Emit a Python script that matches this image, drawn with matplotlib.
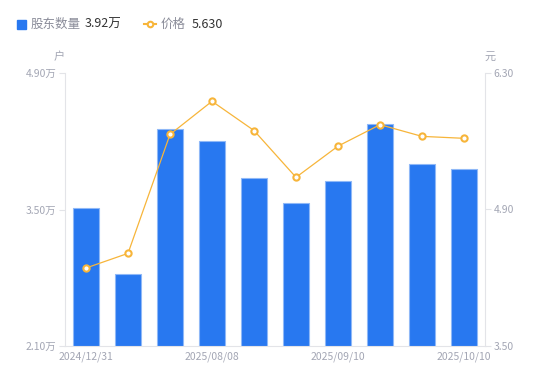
import numpy as np
import matplotlib.pyplot as plt

plt.rcParams['font.family'] = ['Noto Sans CJK SC', 'DejaVu Sans']

# dados
rotulos = ['2024/12/31', '', '', '2025/08/08', '', '', '2025/09/10', '', '', '2025/10/10']
acionistas = [3.52, 2.84, 4.33, 4.20, 3.82, 3.57, 3.79, 4.38, 3.97, 3.92]  # 万户
preco = [4.30, 4.45, 5.67, 6.01, 5.71, 5.23, 5.55, 5.77, 5.65, 5.63]
ticks_esq = [2.10, 3.50, 4.90]
ticks_dir = [3.50, 4.90, 6.30]

azul = '#2878f0'
laranja = '#f7b53a'
cinza = '#a3a6b4'
eixo = '#e3e4e8'

fig = plt.figure(figsize=(5.5, 3.81), dpi=100)
ax = fig.add_axes([65/550, 35/381, 420/550, 273/381])
x = np.arange(len(acionistas))
ax.bar(x, acionistas, width=0.6, color=azul, edgecolor='#8fb8f7', linewidth=0.8, bottom=0)
ax.set_ylim(ticks_esq[0], ticks_esq[-1])
ax.set_xlim(-0.5, len(acionistas) - 0.5)
ax.set_yticks(ticks_esq)
ax.set_yticklabels(['%.2f万' % v for v in ticks_esq])
idx = [i for i in range(len(rotulos)) if rotulos[i] != '']
ax.set_xticks(idx)
ax.set_xticklabels([rotulos[i] for i in idx])

ax2 = ax.twinx()
ax2.plot(x, preco, color=laranja, linewidth=0.9, marker='o', markersize=4.5,
         markerfacecolor='white', markeredgecolor=laranja, markeredgewidth=1.5)
ax2.set_ylim(ticks_dir[0], ticks_dir[-1])
ax2.set_yticks(ticks_dir)
ax2.set_yticklabels(['%.2f' % v for v in ticks_dir])

for a in [ax, ax2]:
    for s in a.spines.values():
        s.set_visible(False)
    a.tick_params(axis='y', colors=eixo, labelcolor=cinza, labelsize=7.5, length=4, width=0.8, pad=2)
    a.tick_params(axis='x', length=0, labelcolor=cinza, labelsize=7.5, pad=4)
ax.spines['left'].set_visible(True)
ax.spines['left'].set_color(eixo)
ax.spines['bottom'].set_visible(True)
ax.spines['bottom'].set_color(eixo)
ax2.spines['right'].set_visible(True)
ax2.spines['right'].set_color(eixo)

fig.text(59/550, 1 - 57/381, '户', color=cinza, fontsize=8, ha='center', va='center')
fig.text(490/550, 1 - 57/381, '元', color=cinza, fontsize=8, ha='center', va='center')

# legenda manual
ly = 1 - 24/381
fig.patches.append(plt.Rectangle((17/550, ly - 4.5/381), 9/550, 9/381, color=azul, transform=fig.transFigure))
fig.text(31/550, ly, '股东数量', color='#8a8c99', fontsize=9, va='center')
fig.text(85/550, ly, '3.92万', color='#333333', fontsize=9, va='center')
fig.lines.append(plt.Line2D([144/550, 150/550, 156/550], [ly, ly, ly], color=laranja, linewidth=1.5, marker='o', markersize=4,
                            markevery=[1], markerfacecolor='white', markeredgewidth=1.5, transform=fig.transFigure))
fig.text(161/550, ly, '价格', color='#8a8c99', fontsize=9, va='center')
fig.text(192/550, ly, '5.630', color='#333333', fontsize=9, va='center')

plt.savefig('out.png', dpi=100)
